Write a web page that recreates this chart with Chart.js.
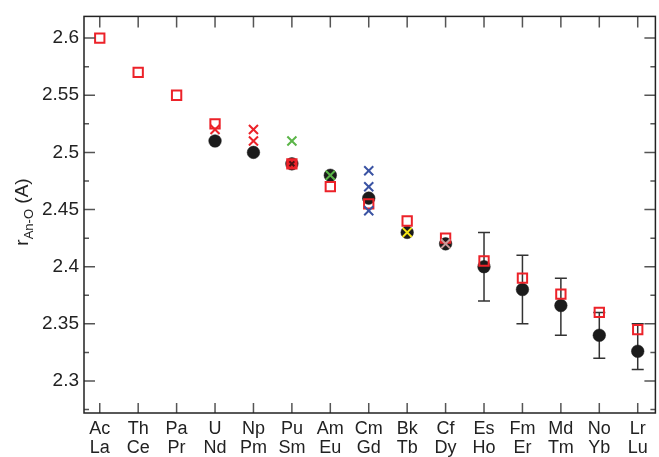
<!DOCTYPE html>
<html>
<head>
<meta charset="utf-8">
<script src="https://cdn.jsdelivr.net/npm/chart.js@4/dist/chart.umd.min.js"></script>
<style>
  html, body { margin: 0; padding: 0; background: #fff; overflow: hidden; }
  #wrap { position: relative; width: 664px; height: 457px; }
</style>
</head>
<body>
<div id="wrap"><canvas id="chart"></canvas></div>
<script>
// categories: actinide (top row) / lanthanide (bottom row)
const actinides   = ['Ac', 'Th', 'Pa', 'U', 'Np', 'Pu', 'Am', 'Cm', 'Bk', 'Cf', 'Es', 'Fm', 'Md', 'No', 'Lr'];
const lanthanides = ['La', 'Ce', 'Pr', 'Nd', 'Pm', 'Sm', 'Eu', 'Gd', 'Tb', 'Dy', 'Ho', 'Er', 'Tm', 'Yb', 'Lu'];

// open red squares
const squareValues = [2.600, 2.570, 2.550, 2.525, null, 2.490, 2.470, 2.455, 2.440, 2.425, 2.405, 2.390, 2.376, 2.360, 2.345];
// black circles
const circleValues = [null, null, null, 2.510, 2.500, 2.490, 2.480, 2.460, 2.430, 2.420, 2.400, 2.380, 2.366, 2.340, 2.326];
// error bars on the circles
const errLow  = [null, null, null, null, null, null, null, null, null, null, 2.370, 2.350, 2.340, 2.320, 2.310];
const errHigh = [null, null, null, null, null, null, null, null, null, null, 2.430, 2.410, 2.390, 2.360, 2.350];

// crosses
const redCrossCat    = ['U', 'Np', 'Np'];
const redCrossVal    = [2.520, 2.520, 2.510];
const greenCrossCat  = ['Pu', 'Am'];
const greenCrossVal  = [2.510, 2.480];
const blueCrossCat   = ['Cm', 'Cm', 'Cm'];
const blueCrossVal   = [2.484, 2.470, 2.449];
const yellowCrossCat = ['Bk'];
const yellowCrossVal = [2.430];
const pinkCrossCat   = ['Cf'];
const pinkCrossVal   = [2.420];
const darkCrossCat   = ['Pu'];
const darkCrossVal   = [2.490];

// y axis ticks
const yTickValues = [2.3, 2.35, 2.4, 2.45, 2.5, 2.55, 2.6];
const yTickLabels = ['2.3', '2.35', '2.4', '2.45', '2.5', '2.55', '2.6'];
const yMinorTicks = [2.275, 2.325, 2.375, 2.425, 2.475, 2.525, 2.575];

const RED = '#ec2229';
const FONT = '"Liberation Sans", Arial, Helvetica, sans-serif';

function series(values) {
    const pts = [];
    values.forEach((v, i) => { if (v !== null) pts.push({x: i, y: v}); });
    return pts;
}
function crossSeries(cats, vals) {
    return cats.map((c, i) => ({x: actinides.indexOf(c), y: vals[i]}));
}
function crossSet(cats, vals, color, r, order) {
    return {
        data: crossSeries(cats, vals),
        pointStyle: 'crossRot',
        pointRadius: r,
        borderColor: color,
        pointBorderWidth: 2,
        order: order
    };
}

const puIndex = actinides.indexOf('Pu');

// error bars, inward ticks, frame and axis title
const extras = {
    id: 'extras',
    beforeDatasetsDraw(chart) {
        const ctx = chart.ctx;
        const xs = chart.scales.x, ys = chart.scales.y;
        ctx.save();
        ctx.strokeStyle = '#333';
        ctx.lineWidth = 1.5;
        errLow.forEach((lo, i) => {
            if (lo === null) return;
            const px = xs.getPixelForValue(i);
            const y1 = ys.getPixelForValue(lo), y2 = ys.getPixelForValue(errHigh[i]);
            ctx.beginPath();
            ctx.moveTo(px, y1); ctx.lineTo(px, y2);
            ctx.moveTo(px - 6, y1); ctx.lineTo(px + 6, y1);
            ctx.moveTo(px - 6, y2); ctx.lineTo(px + 6, y2);
            ctx.stroke();
        });
        ctx.restore();
    },
    afterDraw(chart) {
        const ctx = chart.ctx;
        const a = chart.chartArea;
        const xs = chart.scales.x, ys = chart.scales.y;
        ctx.save();
        ctx.strokeStyle = '#555';
        ctx.lineWidth = 1.5;
        ctx.beginPath();
        actinides.forEach((c, i) => {
            const px = xs.getPixelForValue(i);
            ctx.moveTo(px, a.top); ctx.lineTo(px, a.top + 11);
            ctx.moveTo(px, a.bottom); ctx.lineTo(px, a.bottom - 10);
        });
        yTickValues.forEach(v => {
            const py = ys.getPixelForValue(v);
            ctx.moveTo(a.left, py); ctx.lineTo(a.left + 11, py);
            ctx.moveTo(a.right, py); ctx.lineTo(a.right - 11, py);
        });
        yMinorTicks.forEach(v => {
            const py = ys.getPixelForValue(v);
            ctx.moveTo(a.left, py); ctx.lineTo(a.left + 5, py);
            ctx.moveTo(a.right, py); ctx.lineTo(a.right - 5, py);
        });
        ctx.stroke();

        ctx.strokeStyle = '#222';
        ctx.lineWidth = 1.5;
        ctx.strokeRect(a.left, a.top, a.right - a.left, a.bottom - a.top);

        // y title: r_An-O (A)
        ctx.translate(28, 212);
        ctx.rotate(-Math.PI / 2);
        ctx.fillStyle = '#222';
        ctx.textBaseline = 'alphabetic';
        const big = '19px ' + FONT, small = '13px ' + FONT;
        ctx.font = big;
        const w1 = ctx.measureText('r').width;
        const w3 = ctx.measureText(' (A)').width;
        ctx.font = small;
        const w2 = ctx.measureText('An-O').width;
        let x0 = -(w1 + w2 + w3) / 2;
        ctx.font = big;
        ctx.fillText('r', x0, 0);
        ctx.font = small;
        ctx.fillText('An-O', x0 + w1, 5);
        ctx.font = big;
        ctx.fillText(' (A)', x0 + w1 + w2, 0);
        ctx.restore();
    }
};

new Chart(document.getElementById('chart'), {
    type: 'scatter',
    data: {
        datasets: [
            crossSet(darkCrossCat, darkCrossVal, '#4a1212', 3.5, 1),
            crossSet(redCrossCat, redCrossVal, RED, 6.4, 2),
            crossSet(greenCrossCat, greenCrossVal, '#5bb548', 6.4, 2),
            crossSet(blueCrossCat, blueCrossVal, '#3a53a3', 6.4, 2),
            crossSet(yellowCrossCat, yellowCrossVal, '#f4e416', 6.4, 2),
            crossSet(pinkCrossCat, pinkCrossVal, '#c99a9a', 6.4, 2),
            {
                data: series(squareValues),
                pointStyle: 'rect',
                pointRadius: 6.6,
                borderColor: RED,
                pointBorderWidth: 2,
                pointBackgroundColor: series(squareValues).map(p => p.x === puIndex ? RED : 'rgba(255,255,255,0)'),
                order: 3
            },
            {
                data: series(circleValues),
                pointStyle: 'circle',
                pointRadius: 6.3,
                borderColor: '#1b1b1b',
                backgroundColor: '#1b1b1b',
                pointBorderWidth: 0.5,
                order: 4
            }
        ]
    },
    options: {
        responsive: true,
        maintainAspectRatio: false,
        animation: false,
        events: [],
        layout: { padding: { top: 12, right: 3, left: 0, bottom: 0 } },
        plugins: { legend: { display: false }, tooltip: { enabled: false } },
        scales: {
            x: {
                type: 'linear',
                min: -0.41,
                max: 14.46,
                afterBuildTicks: (scale) => { scale.ticks = actinides.map((c, i) => ({value: i})); },
                afterFit: (scale) => { scale.height = 44; },
                grid: { display: false, drawTicks: false },
                border: { display: false },
                ticks: {
                    autoSkip: false,
                    maxRotation: 0,
                    padding: 7,
                    color: '#222',
                    font: { family: FONT, size: 18, lineHeight: 1.05 },
                    callback: (v) => [actinides[v], lanthanides[v]]
                }
            },
            y: {
                min: 2.272,
                max: 2.619,
                afterBuildTicks: (scale) => { scale.ticks = yTickValues.map(v => ({value: v})); },
                afterFit: (scale) => { scale.width = 84; },
                grid: { display: false, drawTicks: false },
                border: { display: false },
                ticks: {
                    padding: 5,
                    color: '#222',
                    font: { family: FONT, size: 19 },
                    callback: (v) => yTickLabels[yTickValues.indexOf(v)]
                }
            }
        }
    },
    plugins: [extras]
});
</script>
</body>
</html>
